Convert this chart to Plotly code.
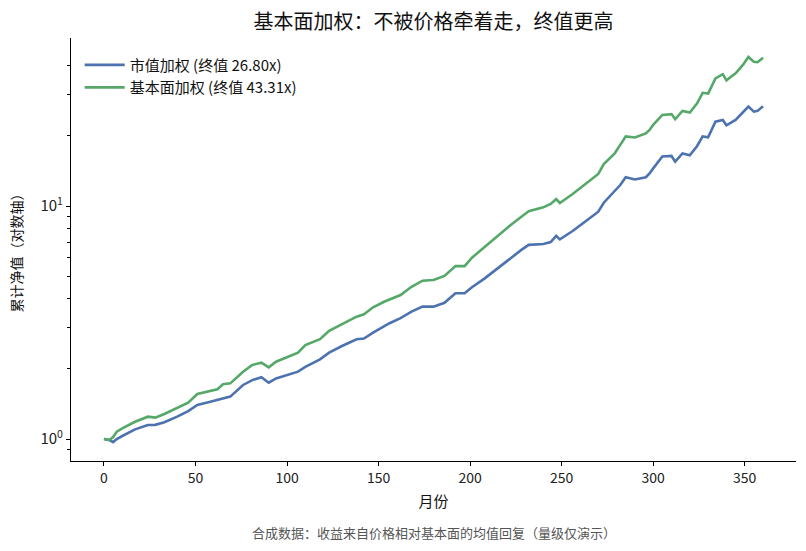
import plotly.graph_objects as go

months = [0, 3, 5, 7, 10, 17, 24, 28, 33, 40, 46, 51, 57, 62, 65, 69, 76, 81, 86, 90,
          94, 101, 106, 110, 118, 123, 130, 138, 142, 147, 153, 156, 162, 168, 174, 180,
          186, 192, 197, 201, 208, 215, 222, 228, 232, 240, 244, 247, 249, 256, 264, 270,
          273, 279, 282, 285, 290, 296, 298, 300, 305, 310, 312, 316, 320, 324, 327, 330,
          334, 338, 340, 345, 349, 352, 355, 357, 360]

cap_weighted = [1.00, 0.99, 0.97, 1.00, 1.03, 1.10, 1.148, 1.15, 1.18, 1.247, 1.318, 1.40,
                1.437, 1.47, 1.495, 1.52, 1.706, 1.79, 1.84, 1.744, 1.82, 1.90, 1.945, 2.04,
                2.197, 2.347, 2.507, 2.68, 2.70, 2.86, 3.05, 3.14, 3.30, 3.52, 3.70, 3.70,
                3.84, 4.22, 4.22, 4.48, 4.89, 5.40, 5.97, 6.48, 6.81, 6.87, 7.0, 7.45, 7.19,
                7.81, 8.71, 9.45, 10.33, 11.53, 12.30, 13.29, 13.0, 13.29, 13.8, 14.5, 16.3,
                16.4, 15.5, 16.8, 16.5, 18.1, 19.9, 19.7, 23.0, 23.4, 22.2, 23.4, 25.1, 26.7,
                25.4, 25.6, 26.80]

fund_weighted = [1.00, 0.99, 1.02, 1.075, 1.11, 1.186, 1.247, 1.235, 1.28, 1.363, 1.432,
                 1.56, 1.596, 1.634, 1.717, 1.733, 1.945, 2.08, 2.126, 2.03, 2.146, 2.256,
                 2.347, 2.53, 2.68, 2.915, 3.115, 3.35, 3.43, 3.675, 3.88, 3.97, 4.15, 4.50,
                 4.78, 4.81, 5.01, 5.53, 5.52, 6.00, 6.68, 7.43, 8.27, 8.99, 9.50, 9.87, 10.2,
                 10.7, 10.3, 11.26, 12.59, 13.73, 15.13, 16.83, 18.3, 19.88, 19.67, 20.5,
                 21.2, 22.3, 24.6, 24.8, 23.6, 25.6, 25.2, 27.6, 30.6, 30.4, 35.3, 36.8, 34.6,
                 37.1, 40.3, 43.6, 41.6, 41.4, 43.31]

series_names = ["市值加权 (终值 26.80x)", "基本面加权 (终值 43.31x)"]
x_ticks = [0, 50, 100, 150, 200, 250, 300, 350]
y_ticks = [1, 10]
y_tick_text = ["10<sup>0</sup>", "10<sup>1</sup>"]
y_minor = [0.9, 2, 3, 4, 5, 6, 7, 8, 9, 20, 30, 40]

FONT = "Noto Sans CJK SC, Lato, sans-serif"

fig = go.Figure()
fig.add_trace(go.Scatter(x=months, y=cap_weighted, mode="lines", name=series_names[0],
                         line=dict(color="#4C72B0", width=2.6)))
fig.add_trace(go.Scatter(x=months, y=fund_weighted, mode="lines", name=series_names[1],
                         line=dict(color="#55A868", width=2.6)))

fig.update_layout(
    width=806, height=551,
    margin=dict(l=71, r=10, t=38, b=90),
    paper_bgcolor="white", plot_bgcolor="white",
    font=dict(family=FONT, size=13, color="#222"),
    title=dict(text="基本面加权：不被价格牵着走，终值更高", xref="paper", x=0.5,
               xanchor="center", y=0.96, yanchor="middle",
               font=dict(size=20, color="#111")),
    showlegend=True,
    legend=dict(x=0.012, y=0.975, xanchor="left", yanchor="top",
                bgcolor="rgba(255,255,255,0)", font=dict(size=15, color="#111"),
                itemwidth=40),
    xaxis=dict(range=[-18, 378], tickvals=x_ticks, showgrid=False, zeroline=False,
               showline=True, linecolor="black", linewidth=1.2, ticks="outside",
               ticklen=4, tickcolor="black", tickfont=dict(size=14, color="#222"),
               title=dict(text="月份", font=dict(size=15, color="#111"), standoff=10)),
    yaxis=dict(type="log", range=[-0.0944, 1.721], tickvals=y_ticks, ticktext=y_tick_text,
               showgrid=False, zeroline=False, showline=True, linecolor="black",
               linewidth=1.2, ticks="outside", ticklen=4, tickcolor="black",
               tickfont=dict(size=15, color="#222"),
               minor=dict(tickvals=y_minor, ticks="outside", ticklen=2.5, tickcolor="black",
                          showgrid=False),
               title=dict(text="累计净值（对数轴）", font=dict(size=14, color="#111"),
                          standoff=14)),
)

fig.add_annotation(text="合成数据：收益来自价格相对基本面的均值回复（量级仅演示）",
                   xref="paper", yref="paper", x=0.5, y=-0.168, xanchor="center",
                   yanchor="middle", showarrow=False, font=dict(size=13, color="#555"))

fig.write_html("out.html")
